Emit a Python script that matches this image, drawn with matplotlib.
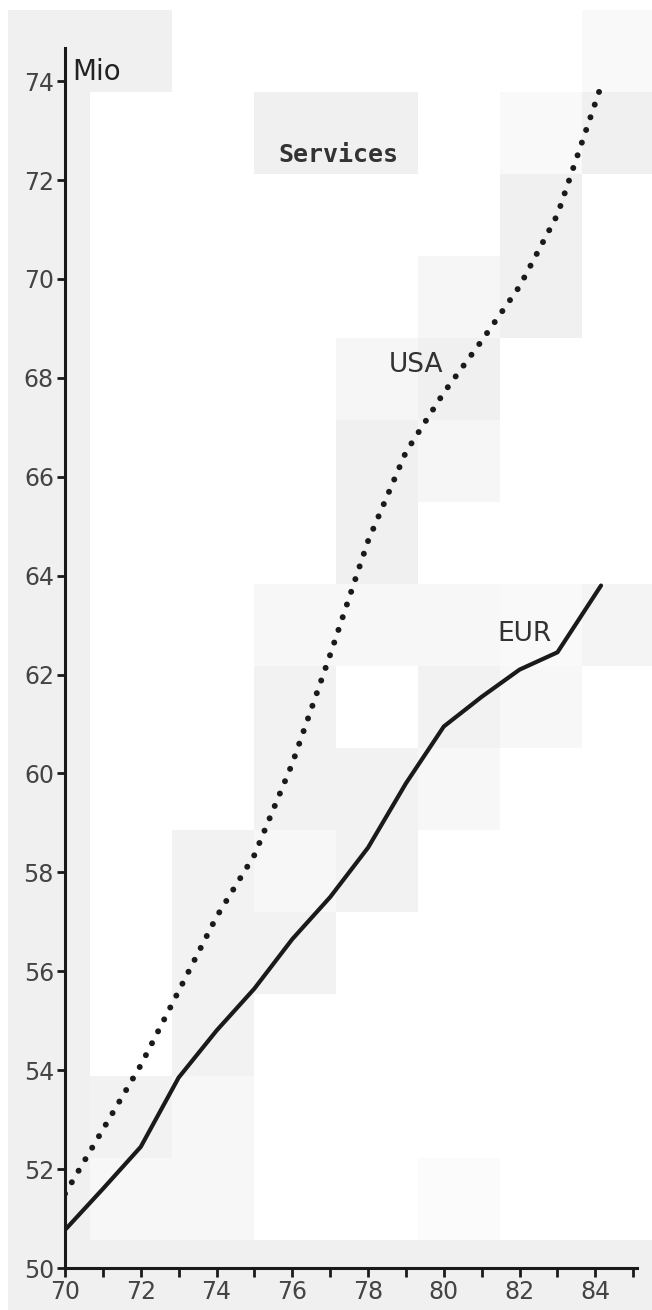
import matplotlib
matplotlib.use("Agg")
import matplotlib.pyplot as plt
from matplotlib.patches import Rectangle

# ---- data ----
years = [70, 71, 72, 73, 74, 75, 76, 77, 78, 79, 80, 81, 82, 83, 84.15]
usa = [51.5, 52.8, 54.1, 55.6, 57.1, 58.35, 60.2, 62.4, 64.7, 66.5, 67.7, 68.75, 69.85, 71.3, 73.9]
eur = [50.77, 51.6, 52.45, 53.85, 54.8, 55.65, 56.65, 57.5, 58.5, 59.8, 60.95, 61.55, 62.1, 62.45, 63.8]

yticks = list(range(50, 75, 2))
xmajor = list(range(70, 85, 2))
xminor = list(range(70, 86))

# faint scan blocks in background: (col, row, gray)
blocks = []
for r in range(0, 15):
    blocks.append((0, r, 0.94))
blocks += [(1, 0, 0.94), (7, 0, 0.975), (3, 1, 0.94), (4, 1, 0.94), (6, 1, 0.975), (7, 1, 0.94),
           (6, 2, 0.94), (5, 3, 0.965), (6, 3, 0.94), (4, 4, 0.965), (5, 4, 0.94), (4, 5, 0.94),
           (5, 5, 0.965), (4, 6, 0.94), (3, 7, 0.97), (4, 7, 0.97), (5, 7, 0.97), (6, 7, 0.975),
           (7, 7, 0.955), (3, 8, 0.95), (5, 8, 0.95), (6, 8, 0.97), (3, 9, 0.95), (4, 9, 0.95),
           (5, 9, 0.97), (2, 10, 0.95), (3, 10, 0.97), (4, 10, 0.95), (2, 11, 0.95), (3, 11, 0.95),
           (2, 12, 0.95), (1, 13, 0.95), (2, 13, 0.97), (1, 14, 0.97), (2, 14, 0.97), (5, 14, 0.985)]
for c in range(0, 8):
    blocks.append((c, 15, 0.94))

W, H = 652, 1310
fig = plt.figure(figsize=(W / 100, H / 100), dpi=100)
fig.patch.set_facecolor("white")

bs = 82
for c, r, g in blocks:
    x0 = 8 + c * bs
    y0 = 10 + r * bs
    rect = Rectangle((x0 / W, 1 - (y0 + bs) / H), bs / W, bs / H,
                     transform=fig.transFigure, facecolor=(g, g, g), edgecolor="none", zorder=-10)
    fig.add_artist(rect)

ax = fig.add_axes([65 / W, 42 / H, (637 - 65) / W, (1262 - 42) / H])
ax.patch.set_alpha(0)
ax.set_xlim(70, 85.1)
ax.set_ylim(50, 74.67)

ax.plot(years, eur, color="#1a1a1a", lw=3.0, solid_capstyle="round", solid_joinstyle="round", zorder=3)
ax.plot(years, usa, color="#1a1a1a", lw=4.3, dashes=(0.01, 2.23), dash_capstyle="round", zorder=3)

for s in ["top", "right"]:
    ax.spines[s].set_visible(False)
for s in ["left", "bottom"]:
    ax.spines[s].set_linewidth(2.2)
    ax.spines[s].set_color("#1a1a1a")

ax.set_yticks(yticks)
ax.set_yticklabels([str(v) for v in yticks])
ax.set_xticks(xmajor)
ax.set_xticklabels([str(v) for v in xmajor])
ax.set_xticks(xminor, minor=True)
ax.tick_params(axis="y", direction="out", length=6, width=2, color="#1a1a1a",
               labelsize=17, labelcolor="#444444", pad=2)
ax.tick_params(axis="x", which="both", direction="out", length=6.5, width=2, color="#1a1a1a",
               labelsize=17, labelcolor="#444444", pad=2)

ax.text(70.18, 74.18, "Mio", fontsize=20, color="#222222", ha="left", va="center")
ax.text(77.21, 72.5, "Services", fontsize=18, color="#333333", ha="center", va="center",
        family="DejaVu Sans Mono", weight="bold")
ax.text(79.27, 68.26, "USA", fontsize=19, color="#333333", ha="center", va="center")
ax.text(82.12, 62.82, "EUR", fontsize=19, color="#333333", ha="center", va="center")

fig.savefig("out.png", dpi=100)
